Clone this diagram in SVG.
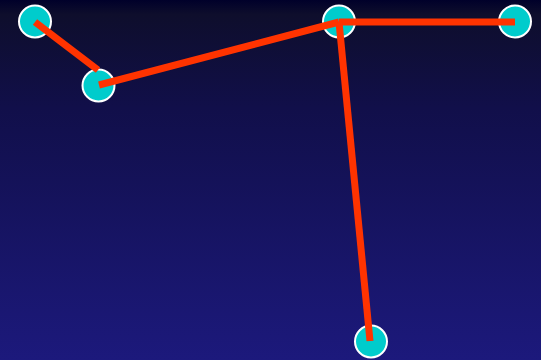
<svg xmlns="http://www.w3.org/2000/svg" width="541" height="360" viewBox="0 0 541 360">
<defs>
<linearGradient id="bg" x1="0" y1="0" x2="0" y2="1">
<stop offset="0" stop-color="#00002a"/>
<stop offset="0.04" stop-color="#0e0e2c"/>
<stop offset="0.3" stop-color="#110f4a"/>
<stop offset="1" stop-color="#1c197c"/>
</linearGradient>
<style>
.node{fill:#00cccc;stroke:#ffffff;stroke-width:2}
.edge{stroke:#ff3300;stroke-width:7;fill:none}
</style>
</defs>
<rect width="541" height="360" fill="url(#bg)"/>
<g id="n1"><circle class="node" cx="35" cy="21.5" r="16"/></g>
<g id="n2"><circle class="node" cx="98.5" cy="85.5" r="16"/></g>
<g id="n3"><circle class="node" cx="339" cy="21.5" r="16"/></g>
<g id="n4"><circle class="node" cx="515" cy="21.5" r="16"/></g>
<g id="n5"><circle class="node" cx="371" cy="341.5" r="16"/></g>
<g id="connectors">
<line class="edge" x1="35" y1="22" x2="98" y2="70"/>
<line class="edge" x1="99" y1="85" x2="339" y2="22"/>
<line class="edge" x1="339" y1="22" x2="515" y2="22"/>
<line class="edge" x1="339" y1="22" x2="370" y2="341"/>
</g>
</svg>
